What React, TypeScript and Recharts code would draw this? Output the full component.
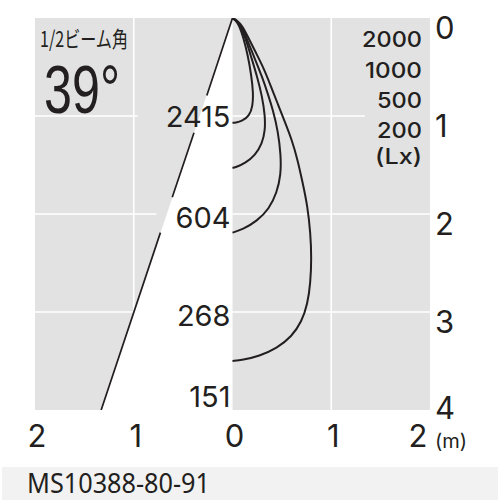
import React from 'react';
import {
  ComposedChart,
  XAxis,
  YAxis,
  CartesianGrid,
  Line,
  Area,
  Scatter,
  ReferenceLine,
} from 'recharts';

// horizontal distance (m) ticks, shown as absolute values
const widthTicks = [-2, -1, 0, 1, 2];
// distance from the fixture (m)
const distTicks = [0, 1, 2, 3, 4];

// centre illuminance (lx) at each distance
const centerLux = [
  { x: 0, y: 1, lux: 2415 },
  { x: 0, y: 2, lux: 604 },
  { x: 0, y: 3, lux: 268 },
  { x: 0, y: 4, lux: 151 },
];

// iso-lux legend
const legendLevels = ['2000', '1000', '500', '200', '(Lx)'];

// beam edge (1/2 beam angle line), nulls leave room for labels
const beamEdge = [
  { x: 0, y: 0 },
  { x: -0.26, y: 0.79 },
  { x: -0.3, y: null },
  { x: -0.39, y: 1.17 },
  { x: -0.61, y: 1.83 },
  { x: -0.66, y: null },
  { x: -0.73, y: 2.19 },
  { x: -1.33, y: 4 },
];

// white cone region
const cone = [
  { x: -1.33, y: 4 },
  { x: 0, y: 0 },
];

// iso-lux curves
const iso2000 = [
  { x: 0, y: 0 },
  { x: 0.03, y: 0.02 },
  { x: 0.07, y: 0.08 },
  { x: 0.11, y: 0.2 },
  { x: 0.155, y: 0.38 },
  { x: 0.19, y: 0.58 },
  { x: 0.21, y: 0.76 },
  { x: 0.205, y: 0.9 },
  { x: 0.17, y: 1.0 },
  { x: 0.1, y: 1.05 },
  { x: 0.03, y: 1.07 },
  { x: 0, y: 1.07 },
];
const iso1000 = [
  { x: 0, y: 0 },
  { x: 0.03, y: 0.02 },
  { x: 0.08, y: 0.08 },
  { x: 0.13, y: 0.2 },
  { x: 0.19, y: 0.4 },
  { x: 0.25, y: 0.6 },
  { x: 0.3, y: 0.8 },
  { x: 0.33, y: 1.0 },
  { x: 0.33, y: 1.15 },
  { x: 0.3, y: 1.28 },
  { x: 0.23, y: 1.4 },
  { x: 0.13, y: 1.48 },
  { x: 0.04, y: 1.52 },
  { x: 0, y: 1.53 },
];
const iso500 = [
  { x: 0, y: 0 },
  { x: 0.03, y: 0.02 },
  { x: 0.09, y: 0.08 },
  { x: 0.14, y: 0.2 },
  { x: 0.22, y: 0.4 },
  { x: 0.3, y: 0.6 },
  { x: 0.36, y: 0.78 },
  { x: 0.41, y: 0.94 },
  { x: 0.46, y: 1.15 },
  { x: 0.49, y: 1.4 },
  { x: 0.49, y: 1.6 },
  { x: 0.45, y: 1.78 },
  { x: 0.37, y: 1.95 },
  { x: 0.25, y: 2.07 },
  { x: 0.1, y: 2.16 },
  { x: 0, y: 2.19 },
];
const iso200 = [
  { x: 0, y: 0 },
  { x: 0.04, y: 0.02 },
  { x: 0.1, y: 0.08 },
  { x: 0.16, y: 0.2 },
  { x: 0.24, y: 0.36 },
  { x: 0.32, y: 0.52 },
  { x: 0.39, y: 0.7 },
  { x: 0.46, y: 0.88 },
  { x: 0.53, y: 1.06 },
  { x: 0.6, y: 1.24 },
  { x: 0.66, y: 1.45 },
  { x: 0.71, y: 1.68 },
  { x: 0.76, y: 1.92 },
  { x: 0.79, y: 2.2 },
  { x: 0.8, y: 2.45 },
  { x: 0.79, y: 2.7 },
  { x: 0.76, y: 2.92 },
  { x: 0.7, y: 3.1 },
  { x: 0.6, y: 3.25 },
  { x: 0.45, y: 3.37 },
  { x: 0.27, y: 3.45 },
  { x: 0.1, y: 3.49 },
  { x: 0, y: 3.5 },
];

// white grid segments [x1, y1, x2, y2]
const gridSegments = [
  [-2, 1, -0.96, 1],
  [-2, 2, -0.77, 2],
  [-2, 3, 0, 3],
  [0, 1, 1.34, 1],
  [0, 2, 2, 2],
  [0, 3, 2, 3],
  [-1, 0, -1, 4],
  [1, 0, 1, 4],
];

const GREY = '#e2e2e2';
const INK = '#231f20';
const NUM_FONT = 'Inter, "Liberation Sans", sans-serif';

const XTick = (props: any) => {
  const v = props.payload.value;
  const dx = v === 2 ? -12 : 2;
  return (
    <text
      x={props.x + dx}
      y={props.y + 37}
      textAnchor="middle"
      fontFamily={NUM_FONT}
      fontSize={31}
      fill={INK}
    >
      {Math.abs(v)}
    </text>
  );
};

const YTick = (props: any) => {
  const v = props.payload.value;
  const dy = v === 4 ? 9 : 21;
  return (
    <text
      x={props.x + 5}
      y={props.y + dy}
      textAnchor="start"
      fontFamily={NUM_FONT}
      fontSize={31}
      fill={INK}
    >
      {v}
    </text>
  );
};

const LuxLabel = (props: any) => {
  const { cx, cy, payload } = props;
  const dy = payload.y === 4 ? -3 : payload.y === 1 ? 11 : 14;
  return (
    <text
      x={cx - 2}
      y={cy + dy}
      textAnchor="end"
      fontFamily={NUM_FONT}
      fontSize={29}
      fill={INK}
    >
      {payload.lux}
    </text>
  );
};

const legendWidths = [60, 57, 45, 45, 47];
const legendBaselines = [47, 78, 108, 138, 164];

export default function App() {
  return (
    <div style={{ position: 'absolute', left: 0, top: 0, width: 500, height: 500, background: '#fff' }}>
      <ComposedChart
        width={500}
        height={500}
        margin={{ top: 18, right: 30, bottom: 60, left: 35 }}
      >
        <CartesianGrid horizontal={false} vertical={false} fill={GREY} stroke="none" />
        <XAxis
          type="number"
          dataKey="x"
          domain={[-2, 2]}
          ticks={widthTicks}
          axisLine={false}
          tickLine={false}
          tickSize={0}
          tickMargin={0}
          height={30}
          tick={XTick}
          allowDataOverflow
        />
        <YAxis
          type="number"
          dataKey="y"
          orientation="right"
          reversed
          domain={[0, 4]}
          ticks={distTicks}
          axisLine={false}
          tickLine={false}
          tickSize={0}
          tickMargin={0}
          width={40}
          tick={YTick}
          allowDataOverflow
        />
        <Area
          data={cone}
          dataKey="y"
          type="linear"
          baseValue={4}
          fill="#ffffff"
          fillOpacity={1}
          stroke="none"
          isAnimationActive={false}
          dot={false}
          activeDot={false}
          zIndex={100}
        />
        {gridSegments.map((s, i) => (
          <ReferenceLine
            key={i}
            segment={[
              { x: s[0], y: s[1] },
              { x: s[2], y: s[3] },
            ]}
            stroke="#ffffff"
            strokeWidth={1.6}
            zIndex={150}
          />
        ))}
        <Line
          data={beamEdge}
          dataKey="y"
          type="linear"
          stroke={INK}
          strokeWidth={1.7}
          dot={false}
          activeDot={false}
          connectNulls={false}
          isAnimationActive={false}
          zIndex={400}
        />
        {[iso2000, iso1000, iso500, iso200].map((d, i) => (
          <Line
            key={i}
            data={d}
            dataKey="y"
            type="basis"
            stroke={INK}
            strokeWidth={2}
            dot={false}
            activeDot={false}
            isAnimationActive={false}
            zIndex={400}
          />
        ))}
        <Scatter data={centerLux} dataKey="y" shape={LuxLabel} isAnimationActive={false} zIndex={600} />
      </ComposedChart>
      <svg
        width={500}
        height={500}
        style={{ position: 'absolute', left: 0, top: 0, pointerEvents: 'none' }}
      >
        <text
          x={40}
          y={47}
          fontFamily='"Noto Sans CJK JP", sans-serif'
          fontSize={22}
          fill={INK}
          textLength={88}
          lengthAdjust="spacingAndGlyphs"
        >
          1/2ビーム角
        </text>
        <text
          x={44}
          y={113}
          fontFamily='"Liberation Sans Narrow", "Liberation Sans", sans-serif'
          fontSize={68}
          fill={INK}
          textLength={76}
          lengthAdjust="spacingAndGlyphs"
        >
          39°
        </text>
        {legendLevels.map((t, i) => (
          <text
            key={t}
            x={422}
            y={legendBaselines[i]}
            textAnchor="end"
            fontFamily={NUM_FONT}
            fontSize={22}
            fontWeight={500}
            fill={INK}
            textLength={legendWidths[i]}
            lengthAdjust="spacingAndGlyphs"
          >
            {t}
          </text>
        ))}
        <text x={435} y={448} fontFamily={NUM_FONT} fontSize={20} fill={INK}>
          (m)
        </text>
        <rect x={2} y={467} width={496} height={33} fill="#f2f2f2" />
        <text
          x={27}
          y={493}
          fontFamily='"Noto Sans", sans-serif'
          fontSize={27}
          fill={INK}
          textLength={183}
          lengthAdjust="spacingAndGlyphs"
        >
          MS10388-80-91
        </text>
      </svg>
    </div>
  );
}
